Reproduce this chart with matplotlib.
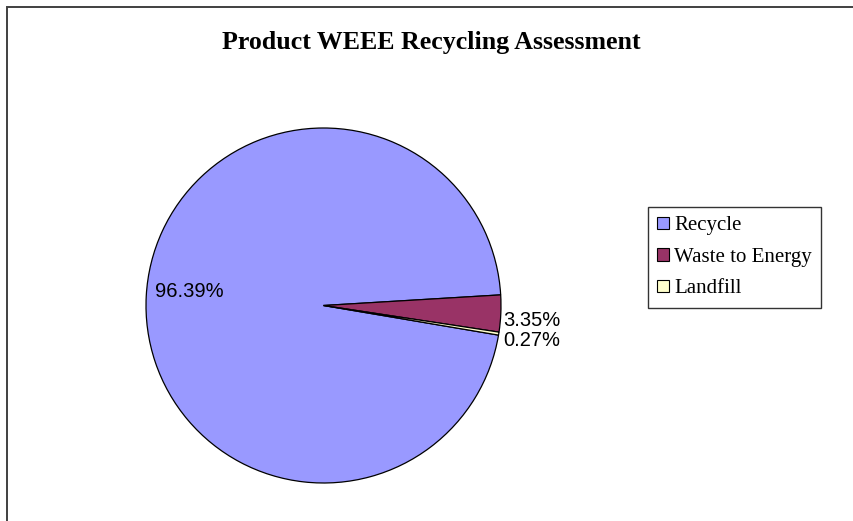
import matplotlib
matplotlib.use("Agg")
import matplotlib.pyplot as plt
from matplotlib.patches import Rectangle

# Share of product mass by end-of-life route
categories = ["Recycle", "Waste to Energy", "Landfill"]
shares = [96.39, 3.35, 0.27]
colors = ["#9999FF", "#993366", "#FFFFCC"]

W, H = 854, 521
fig = plt.figure(figsize=(W / 100, H / 100), dpi=100)
fig.patch.set_facecolor("white")

# Chart-area border
fig.patches.append(Rectangle((7 / W, -0.1), 1.2, 1 - 7 / H + 0.1,
                             transform=fig.transFigure, fill=False,
                             edgecolor="#404040", linewidth=1.4))

fig.text(431 / W, 1 - 43 / H, "Product WEEE Recycling Assessment",
         ha="center", va="center", fontsize=18.6, fontweight="bold",
         family="Liberation Serif")

# Pie axes sized to the pie itself
cx, cy, r = 323.5, 305.5, 177.5
ax = fig.add_axes([(cx - r) / W, 1 - (cy + r) / H, 2 * r / W, 2 * r / H])
wedges, _ = ax.pie(shares, colors=colors, startangle=350.4, counterclock=False,
                   radius=1.0,
                   wedgeprops=dict(edgecolor="black", linewidth=0.9))
ax.set_xlim(-1, 1)
ax.set_ylim(-1, 1)
ax.set_aspect("equal")
ax.axis("off")

# Data labels
label_pos = [(-0.95, 0.08, "left"), (1.01, -0.085, "left"), (1.01, -0.195, "left")]
for v, (x, y, ha) in zip(shares, label_pos):
    ax.text(x, y, f"{v:.2f}%", ha=ha, va="center", fontsize=14.5,
            family="Liberation Sans", color="black", clip_on=False)

leg = fig.legend(wedges, categories, loc="upper left",
                 bbox_to_anchor=(648 / W, 1 - 207 / H),
                 prop=dict(family="Liberation Serif", size=15),
                 frameon=True, fancybox=False, edgecolor="black",
                 handlelength=0.58, handleheight=0.58, handletextpad=0.22,
                 labelspacing=0.6, borderpad=0.45, borderaxespad=0)
leg.get_frame().set_linewidth(1.0)
for h in leg.legend_handles:
    h.set_linewidth(0.8)

fig.savefig("out.png", dpi=100, facecolor="white")
